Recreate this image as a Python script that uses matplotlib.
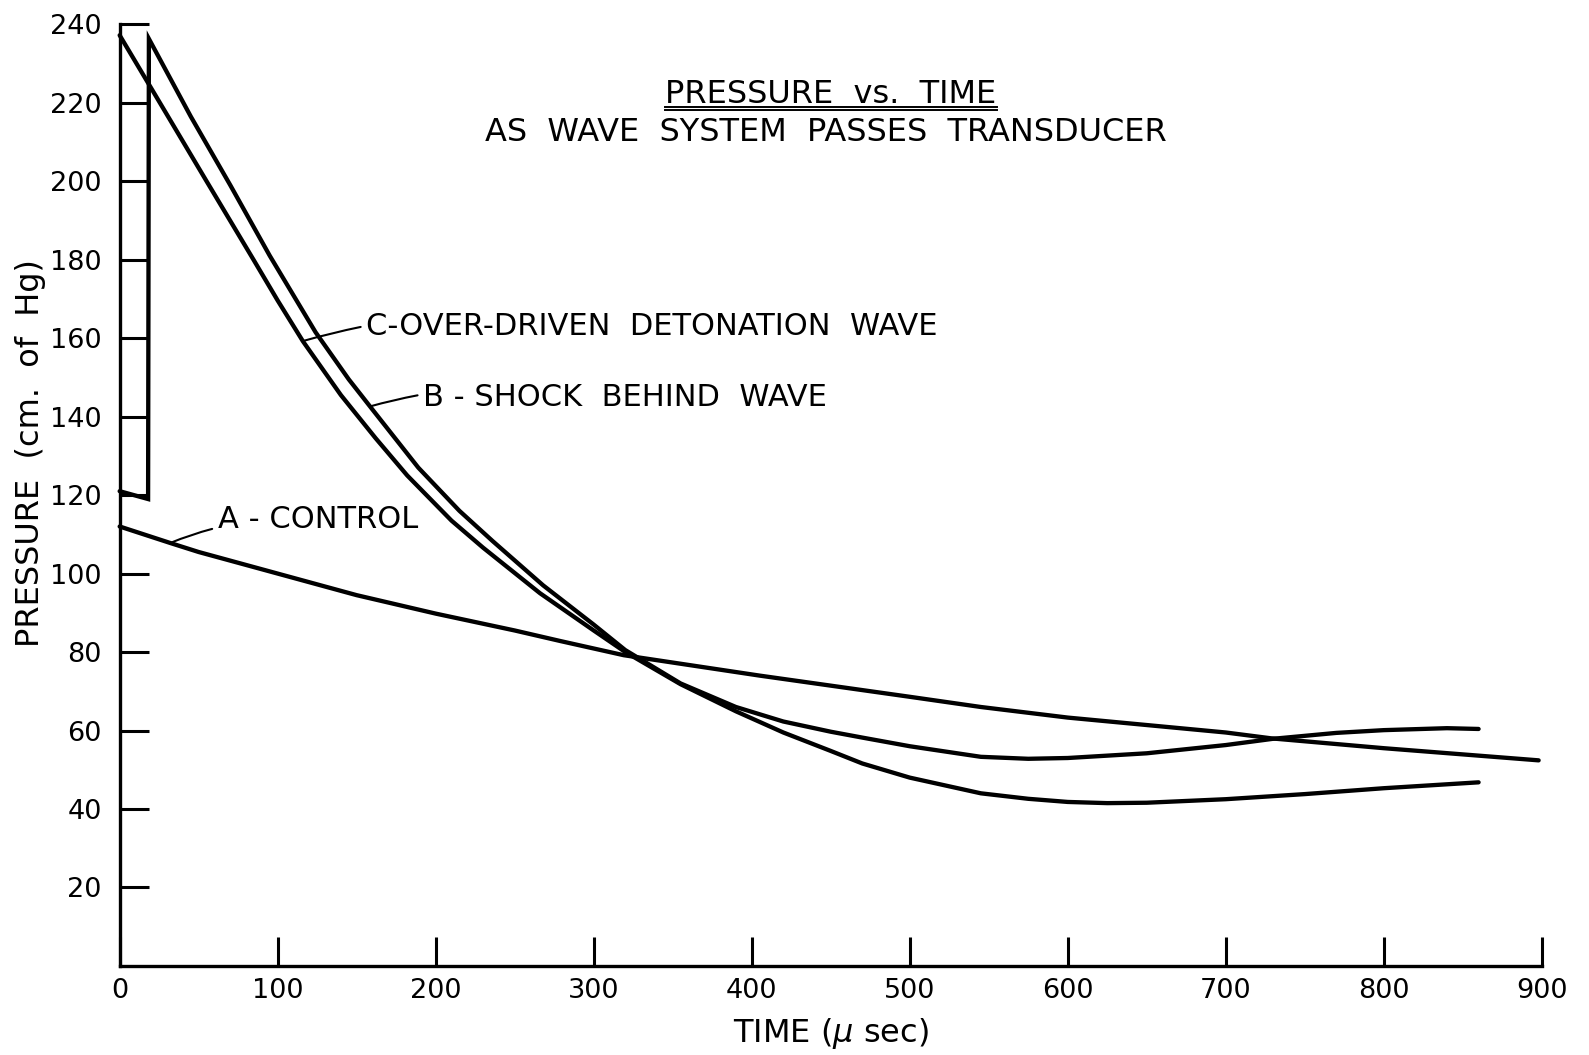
import numpy as np
import matplotlib
matplotlib.use("Agg")
import matplotlib.pyplot as plt
from matplotlib.lines import Line2D

# Curve A - control
a_time = [0, 32, 50, 100, 150, 200, 250, 279, 319, 405, 500, 545, 600, 700, 729, 800, 898]
a_pressure = [112, 107.8, 105.5, 100, 94.5, 89.8, 85.5, 82.8, 79.2, 74, 68.6, 66, 63.3, 59.5, 58, 55.5, 52.4]

# Curve B - shock behind wave (detonation front, then the shock jump)
b_time = [0, 18, 18.5, 45, 70, 95, 124, 145, 160, 189, 215, 236, 268, 300, 320,
          355, 390, 420, 450, 470, 500, 545, 575, 600, 650, 700, 730, 770, 800, 840, 860]
b_pressure = [121, 119, 236.3, 216.5, 199, 181, 161.5, 149.5, 141.8, 127, 116, 108.3, 97, 87, 80.5,
              72, 66, 62.3, 59.7, 58.2, 56, 53.3, 52.8, 53, 54.2, 56.3, 57.9, 59.4, 60.1, 60.6, 60.4]

# Curve C - over-driven detonation wave
c_time = [0, 25, 55, 85, 100, 116, 140, 162, 182, 210, 230, 266, 300, 320,
          355, 390, 420, 450, 470, 500, 545, 575, 600, 625, 650, 700, 750, 800, 860]
c_pressure = [237.2, 220.3, 200, 179.8, 169.6, 159.2, 145.5, 134.5, 125, 113.5, 106.6, 95, 85.5, 80,
              71.8, 64.9, 59.5, 54.8, 51.6, 48, 44, 42.6, 41.8, 41.5, 41.6, 42.5, 43.8, 45.3, 46.8]

x_ticks = [0, 100, 200, 300, 400, 500, 600, 700, 800, 900]
y_ticks = [20, 40, 60, 80, 100, 120, 140, 160, 180, 200, 220, 240]

plt.rcParams['font.family'] = ['DejaVu Sans']

fig = plt.figure(figsize=(15.89, 10.55), dpi=100)
ax = fig.add_axes([0.0753, 0.0844, 0.895, 0.8926])

lw = 3.1
ax.plot(a_time, a_pressure, color='black', lw=lw, solid_capstyle='round', solid_joinstyle='round', clip_on=False)
ax.plot(b_time, b_pressure, color='black', lw=lw, solid_capstyle='round', solid_joinstyle='miter', clip_on=False)
ax.plot(c_time, c_pressure, color='black', lw=lw, solid_capstyle='round', solid_joinstyle='round', clip_on=False)

ax.set_xlim(0, 900)
ax.set_ylim(0, 240)
ax.set_xticks(x_ticks)
ax.set_yticks(y_ticks)
ax.tick_params(direction='in', length=21, width=2.2, labelsize=19.5, colors='black')
ax.tick_params(axis='y', pad=13)
ax.tick_params(axis='x', pad=9)
for side in ['top', 'right']:
    ax.spines[side].set_visible(False)
for side in ['left', 'bottom']:
    ax.spines[side].set_linewidth(2.4)

ax.set_xlabel('TIME ($\\mu$ sec)', fontsize=23)
ax.xaxis.set_label_coords(0.5, -0.072)
ax.xaxis.label.set_va('center')
ax.set_ylabel('PRESSURE  (cm.  of  Hg)', fontsize=23)
ax.yaxis.set_label_coords(-0.0627, 0.545)
ax.yaxis.label.set_va('center')

# curve labels with short leader lines
leader = dict(arrowstyle='-', color='black', lw=1.5, shrinkA=2, shrinkB=0)
ax.annotate('C-OVER-DRIVEN  DETONATION  WAVE', xy=(116.3, 159.3), xytext=(156, 163),
            fontsize=22, va='center', ha='left',
            arrowprops=dict(leader, connectionstyle='arc3,rad=0.12'))
ax.annotate('B - SHOCK  BEHIND  WAVE', xy=(158.4, 142.6), xytext=(192, 145),
            fontsize=22, va='center', ha='left',
            arrowprops=dict(leader, connectionstyle='arc3,rad=0.12'))
ax.annotate('A - CONTROL', xy=(32, 107.8), xytext=(62, 113.7),
            fontsize=22, va='center', ha='left',
            arrowprops=dict(leader, connectionstyle='arc3,rad=0.12'))

t1 = fig.text(0.523, 0.91, 'PRESSURE  vs.  TIME', fontsize=23, ha='center', va='center')
fig.text(0.52, 0.874, 'AS  WAVE  SYSTEM  PASSES  TRANSDUCER', fontsize=23, ha='center', va='center')

# double underline below the first title line
fig.canvas.draw()
bb = t1.get_window_extent().transformed(fig.transFigure.inverted())
for dy in (-0.0035, 0.0):
    fig.add_artist(Line2D([bb.x0, bb.x1], [bb.y0 - dy, bb.y0 - dy],
                          color='black', lw=1.4, transform=fig.transFigure))

fig.savefig('out.png', dpi=100, facecolor='white')
